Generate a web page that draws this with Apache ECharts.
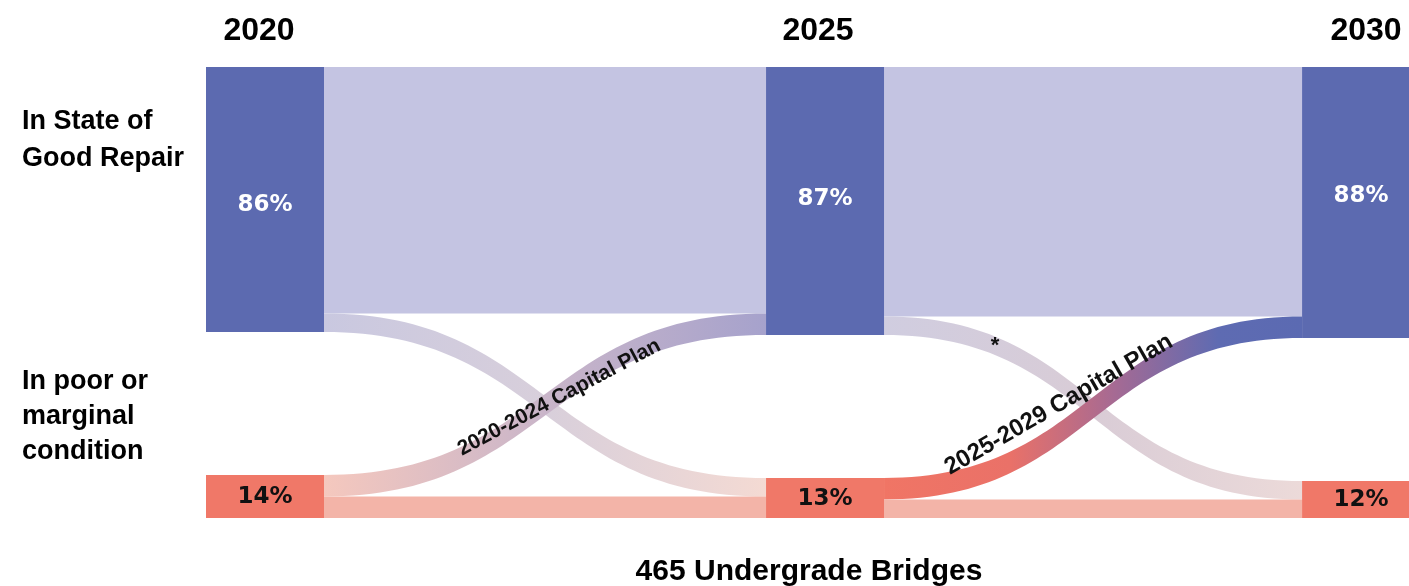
<!DOCTYPE html>
<html><head><meta charset="utf-8">
<script src="https://cdn.jsdelivr.net/npm/echarts@6/dist/echarts.min.js"></script>
<style>html,body{margin:0;padding:0;background:#fff}#c{width:1409px;height:586px}</style>
</head><body><div id="c"></div>
<script>
// ---- data ----
const years = ['2020', '2025', '2030'];
const stateLabels = ['In State of\nGood Repair', 'In poor or\nmarginal\ncondition'];
const goodShare = [86, 87, 88];   // % in state of good repair
const poorShare = [14, 13, 12];   // % in poor or marginal condition
// flows between consecutive years, % of bridges
const flowGoodToGood = [80, 81];
const flowGoodToPoor = [6, 6];
const flowPoorToGood = [7, 7];
const flowPoorToPoor = [7, 6];
const planLabels = ['2020-2024 Capital Plan', '2025-2029 Capital Plan'];
const footnoteMark = '*';
const chartTitle = '465 Undergrade Bridges';

// ---- styles ----
const GOOD = '#5c6ab0', POOR = '#f07868';
const LAV = '#c4c4e2', PEACH = '#f3b4a8';
const colX = [0, 0.4617, 0.9036];
const goodLabelOffset = [[0, 6], [0, -2], [0, -6]];
const FONT = '"Liberation Sans", Arial, sans-serif';

function grad(stops) {
  return { type: 'linear', x: 0, y: 0, x2: 1, y2: 0,
    colorStops: stops.map(s => ({ offset: s[0], color: s[1] })) };
}

const nodes = [];
years.forEach((y, i) => {
  nodes.push({
    name: 'G' + y, value: goodShare[i], localX: colX[i],
    itemStyle: { color: GOOD },
    label: { color: '#fff', offset: goodLabelOffset[i] }
  });
  nodes.push({
    name: 'P' + y, value: poorShare[i], localX: colX[i],
    itemStyle: { color: POOR },
    label: { color: '#111', offset: [0, 1] }
  });
});

const crossGoodPoor = [
  grad([[0, '#c9c8e0'], [0.5, '#d8cfdb'], [1, '#f4dad3']]),
  grad([[0, '#d0cde0'], [0.5, '#d9ccd6'], [1, '#ecdad9']])
];
const crossPoorGood = [
  grad([[0, '#f5c8be'], [0.5, '#c9b5c9'], [1, '#a6a2cc']]),
  grad([[0, '#f07565'], [0.3, '#ea7168'], [0.55, '#a66a93'], [0.8, '#5e6bb2'], [1, '#5b6ab2']])
];
const planLabelOffset = [[16, 0], [-28, -20]];
const planLabelSize = [21, 24];
const planLabelRotate = [28, 30];

const links = [];
for (let i = 0; i < years.length - 1; i++) {
  const a = years[i], b = years[i + 1];
  links.push({ source: 'G' + a, target: 'G' + b, value: flowGoodToGood[i], lineStyle: { color: LAV } });
  links.push({
    source: 'G' + a, target: 'P' + b, value: flowGoodToPoor[i], lineStyle: { color: crossGoodPoor[i] },
    edgeLabel: i === 1 ? { show: true, formatter: footnoteMark, fontSize: 22, fontWeight: 'bold', color: '#111', offset: [-98, -62] } : { show: false }
  });
  links.push({
    source: 'P' + a, target: 'G' + b, value: flowPoorToGood[i], lineStyle: { color: crossPoorGood[i] },
    edgeLabel: { show: true, formatter: planLabels[i], rotate: planLabelRotate[i], fontSize: planLabelSize[i], fontWeight: 'bold',
      fontFamily: FONT, color: '#111', offset: planLabelOffset[i] }
  });
  links.push({ source: 'P' + a, target: 'P' + b, value: flowPoorToPoor[i], lineStyle: { color: PEACH } });
}

const graphics = [];
const yearX = [259, 818, 1366];
years.forEach((y, i) => graphics.push({
  type: 'text', x: yearX[i], y: 31,
  style: { text: y, font: 'bold 32px ' + FONT, fill: '#000', align: 'center', verticalAlign: 'middle' }
}));
graphics.push({ type: 'text', x: 22, y: 140,
  style: { text: stateLabels[0], font: 'bold 27px ' + FONT, fill: '#000', lineHeight: 37, verticalAlign: 'middle' } });
graphics.push({ type: 'text', x: 22, y: 417,
  style: { text: stateLabels[1], font: 'bold 27px ' + FONT, fill: '#000', lineHeight: 35, verticalAlign: 'middle' } });
graphics.push({ type: 'text', x: 809, y: 572,
  style: { text: chartTitle, font: 'bold 30px ' + FONT, fill: '#000', align: 'center', verticalAlign: 'middle' } });

const chart = echarts.init(document.getElementById('c'), null, { renderer: 'canvas' });
chart.setOption({
  animation: false,
  backgroundColor: '#fff',
  graphic: graphics,
  series: [{
    type: 'sankey',
    left: 206, top: 67, width: 1213, height: 451,
    nodeWidth: 118, nodeGap: 143,
    layoutIterations: 0,
    draggable: false,
    emphasis: { disabled: true },
    data: nodes,
    links: links,
    itemStyle: { borderWidth: 0 },
    label: {
      show: true, position: 'inside',
      fontSize: 23, fontWeight: 'bold', fontFamily: '"DejaVu Sans", sans-serif',
      formatter: p => p.value + '%'
    },
    lineStyle: { opacity: 1, curveness: 0.5 },
    edgeLabel: { show: false }
  }]
});
</script></body></html>
